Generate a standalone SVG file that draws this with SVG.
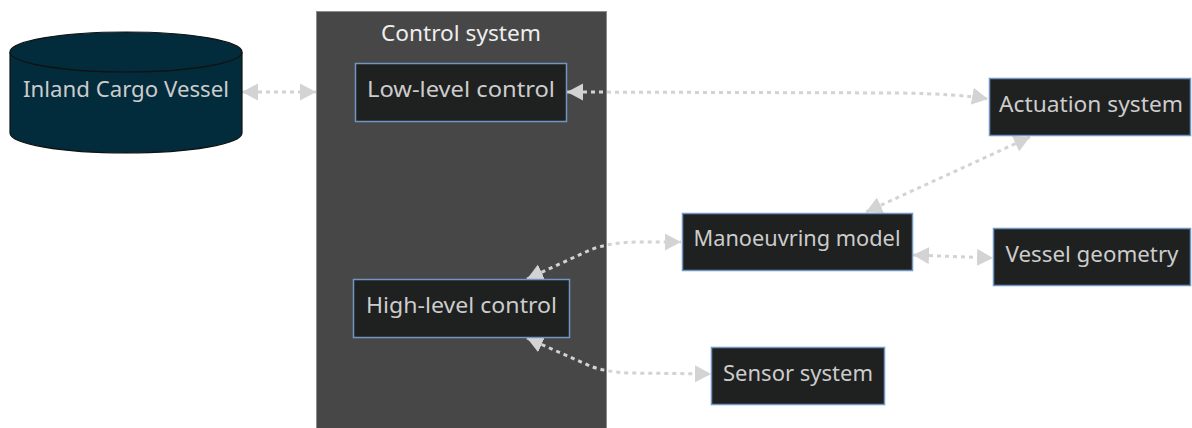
<svg xmlns="http://www.w3.org/2000/svg" width="1192" height="428" viewBox="0 0 1192 428">
  <defs>
    <style>
      .node rect { fill: #1f2020; stroke: #6f97c2; stroke-width: 1.5; }
      .label { font-family: "Noto Sans", "DejaVu Sans", sans-serif; font-size: 22px; fill: #cccccc; text-anchor: middle; }
      .title { font-family: "Noto Sans", "DejaVu Sans", sans-serif; font-size: 22px; fill: #eeeeee; text-anchor: middle; }
      .edge { fill: none; stroke: #d3d3d3; stroke-width: 3; stroke-dasharray: 4 4; marker-start: url(#arrow); marker-end: url(#arrow); }
    </style>
    <marker id="arrow" markerUnits="userSpaceOnUse" markerWidth="18" markerHeight="18" refX="16" refY="8.5" orient="auto-start-reverse" viewBox="0 0 18 18">
      <path d="M0,0 L16,8.5 L0,17 z" fill="#d3d3d3"/>
    </marker>
  </defs>
  <rect width="1192" height="428" fill="#ffffff"/>

  <!-- cluster: control system -->
  <g id="control-system">
    <rect x="316.5" y="11.5" width="290" height="430" fill="#474747" stroke="#8c8c8c" stroke-width="1"/>
    <text class="title" x="461" y="41" textLength="160" lengthAdjust="spacingAndGlyphs">Control system</text>
  </g>

  <!-- connectors -->
  <g id="connectors">
    <path class="edge" d="M242,92 L316,92"/>
    <path class="edge" d="M567,92 L900,93 Q960,94 988,99"/>
    <path class="edge" d="M1030,137 L866,212"/>
    <path class="edge" d="M527,279 L590,250 Q610,242 640,242 L681,242"/>
    <path class="edge" d="M913,255 L993,258"/>
    <path class="edge" d="M527,338 L590,366 Q605,372 630,373 L711,374"/>
  </g>

  <!-- database: inland cargo vessel -->
  <g id="inland-cargo-vessel">
    <path d="M10,52 A116,20 0 0 1 242,52 L242,133 A116,20 0 0 1 10,133 Z" fill="#022b3b" stroke="#111111" stroke-width="1.2"/>
    <path d="M10,52 A116,20 0 0 0 242,52" fill="none" stroke="#111111" stroke-width="1.2"/>
    <text class="label" x="126" y="97" textLength="206" lengthAdjust="spacingAndGlyphs">Inland Cargo Vessel</text>
  </g>

  <g id="low-level-control" class="node">
    <rect x="355.5" y="63.5" width="211" height="58"/>
    <text class="label" x="461" y="97" textLength="188" lengthAdjust="spacingAndGlyphs">Low-level control</text>
  </g>

  <g id="high-level-control" class="node">
    <rect x="353.5" y="279.5" width="216" height="58"/>
    <text class="label" x="461.5" y="313" textLength="191" lengthAdjust="spacingAndGlyphs">High-level control</text>
  </g>

  <g id="actuation-system" class="node">
    <rect x="989.5" y="78.5" width="201" height="57"/>
    <text class="label" x="1091" y="112" textLength="184" lengthAdjust="spacingAndGlyphs">Actuation system</text>
  </g>

  <g id="manoeuvring-model" class="node">
    <rect x="682.5" y="213.5" width="230" height="57"/>
    <text class="label" x="797" y="246" textLength="207" lengthAdjust="spacingAndGlyphs">Manoeuvring model</text>
  </g>

  <g id="vessel-geometry" class="node">
    <rect x="993.5" y="228.5" width="197" height="57"/>
    <text class="label" x="1092" y="262" textLength="173" lengthAdjust="spacingAndGlyphs">Vessel geometry</text>
  </g>

  <g id="sensor-system" class="node">
    <rect x="711.5" y="347.5" width="173" height="57"/>
    <text class="label" x="798" y="381" textLength="150" lengthAdjust="spacingAndGlyphs">Sensor system</text>
  </g>
</svg>
